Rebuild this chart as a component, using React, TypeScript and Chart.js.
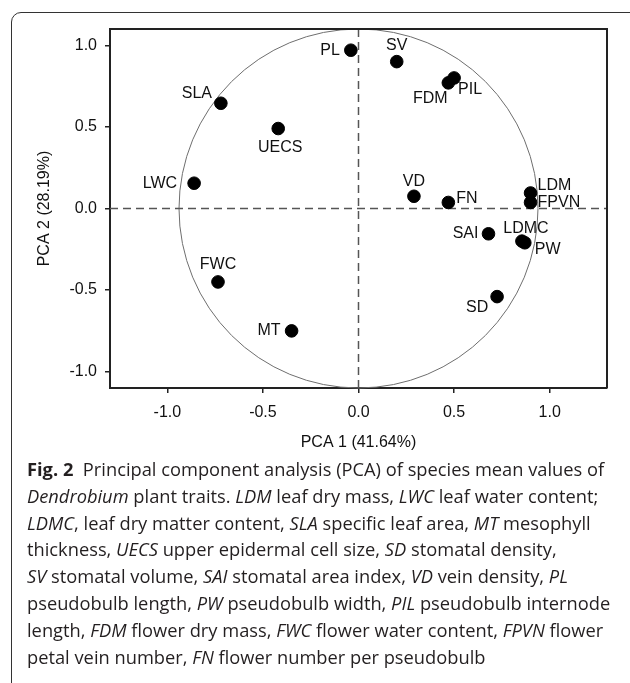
import React, { useEffect, useRef } from "react";
import { Chart, registerables } from "chart.js";
Chart.register(...registerables);

// ---- data ----
const traits = ["PL", "SV", "FDM", "PIL", "SLA", "UECS", "LWC", "FWC", "MT", "VD", "FN", "LDM", "FPVN", "SAI", "LDMC", "PW", "SD"];
const pca1 = [-0.04, 0.2, 0.47, 0.5, -0.72, -0.42, -0.86, -0.735, -0.35, 0.29, 0.47, 0.9, 0.9, 0.68, 0.855, 0.87, 0.725];
const pca2 = [0.97, 0.9, 0.77, 0.8, 0.645, 0.49, 0.155, -0.45, -0.75, 0.075, 0.037, 0.095, 0.037, -0.155, -0.2, -0.21, -0.54];
const xTicks = [-1, -0.5, 0, 0.5, 1];
const yTicks = [-1, -0.5, 0, 0.5, 1];
const xTitle = "PCA 1 (41.64%)";
const yTitle = "PCA 2 (28.19%)";

// label placement (style): [textAlign, dx, dy] relative to the point
const labelPlacement: Record<string, [CanvasTextAlign, number, number]> = {
  PL: ["right", -11, 0],
  SV: ["center", 0, -16],
  FDM: ["center", -18, 16],
  PIL: ["left", 4, 12],
  SLA: ["center", -24, -10],
  UECS: ["center", 2, 19],
  LWC: ["right", -17, 0],
  FWC: ["center", 0, -17],
  MT: ["right", -11, 0],
  VD: ["center", 0, -15],
  FN: ["left", 8, -4],
  LDM: ["left", 7, -7],
  FPVN: ["left", 7, 0],
  SAI: ["right", -10, 0],
  LDMC: ["center", 4, -13],
  PW: ["left", 10, 7],
  SD: ["center", -20, 11],
};

const FONT = "'Liberation Sans', Arial, Helvetica, sans-serif";

const overlay = {
  id: "overlay",
  beforeDatasetsDraw(chart: any) {
    const { ctx, chartArea: a, scales } = chart;
    const x0 = scales.x.getPixelForValue(0);
    const y0 = scales.y.getPixelForValue(0);
    ctx.save();
    ctx.beginPath();
    ctx.strokeStyle = "#6e6e6e";
    ctx.lineWidth = 1;
    ctx.arc(x0, y0, y0 - a.top, 0, Math.PI * 2);
    ctx.stroke();
    ctx.setLineDash([8, 5]);
    ctx.strokeStyle = "#555";
    ctx.lineWidth = 1.5;
    ctx.beginPath();
    ctx.moveTo(x0, a.top);
    ctx.lineTo(x0, a.bottom);
    ctx.moveTo(a.left, y0);
    ctx.lineTo(a.right, y0);
    ctx.stroke();
    ctx.restore();
  },
  afterDatasetsDraw(chart: any) {
    const { ctx, chartArea: a } = chart;
    const meta = chart.getDatasetMeta(0);
    ctx.save();
    ctx.fillStyle = "#111";
    ctx.font = `16px ${FONT}`;
    ctx.textBaseline = "middle";
    meta.data.forEach((pt: any, i: number) => {
      const name = traits[i];
      const [align, dx, dy] = labelPlacement[name] || ["left", 8, 0];
      ctx.textAlign = align;
      ctx.fillText(name, pt.x + dx, pt.y + dy);
    });
    ctx.strokeStyle = "#222";
    ctx.lineWidth = 2;
    ctx.beginPath();
    ctx.moveTo(a.left, a.top);
    ctx.lineTo(a.right, a.top);
    ctx.lineTo(a.right, a.bottom);
    ctx.stroke();
    ctx.restore();
  },
};

export default function App() {
  const ref = useRef<HTMLCanvasElement>(null);
  useEffect(() => {
    if (!ref.current) return;
    const chart = new Chart(ref.current, {
      type: "scatter",
      data: {
        datasets: [
          {
            data: pca1.map((v, i) => ({ x: v, y: pca2[i] })),
            backgroundColor: "#000",
            borderColor: "#000",
            pointRadius: 6.3,
            pointHoverRadius: 6.3,
          },
        ],
      },
      options: {
        animation: false,
        responsive: false,
        maintainAspectRatio: false,
        events: [],
        layout: { padding: { left: 0, top: 29, right: 23, bottom: 0 } },
        plugins: { legend: { display: false }, tooltip: { enabled: false } },
        scales: {
          x: {
            type: "linear",
            min: -1.3,
            max: 1.3,
            afterFit: (s: any) => {
              s.height = 72;
            },
            afterBuildTicks: (s: any) => {
              s.ticks = xTicks.map((v) => ({ value: v }));
            },
            ticks: {
              color: "#111",
              font: { family: FONT, size: 16 },
              padding: 10,
              callback: (v: any) => Number(v).toFixed(1),
            },
            grid: { display: true, drawOnChartArea: false, drawTicks: true, tickLength: 5, color: "#222", lineWidth: 1.5 },
            border: { display: true, color: "#222", width: 2 },
            title: { display: true, text: xTitle, color: "#111", font: { family: FONT, size: 16 }, padding: { top: 0, bottom: 8 } },
          },
          y: {
            type: "linear",
            min: -1.1,
            max: 1.1,
            afterFit: (s: any) => {
              s.width = 110;
            },
            afterBuildTicks: (s: any) => {
              s.ticks = yTicks.map((v) => ({ value: v }));
            },
            ticks: {
              color: "#111",
              font: { family: FONT, size: 16 },
              padding: 8,
              callback: (v: any) => Number(v).toFixed(1),
            },
            grid: { display: true, drawOnChartArea: false, drawTicks: true, tickLength: 5, color: "#222", lineWidth: 1.5 },
            border: { display: true, color: "#222", width: 2 },
            title: { display: true, text: yTitle, color: "#111", font: { family: FONT, size: 16 }, padding: { top: 35, bottom: 0 } },
          },
        },
      },
      plugins: [overlay],
    });
    return () => chart.destroy();
  }, []);

  const it = (t: string) => <i>{t}</i>;
  const lineStyle: React.CSSProperties = { whiteSpace: "nowrap", height: 26.8, lineHeight: "26.8px" };

  return (
    <div style={{ position: "fixed", left: 0, top: 0, width: 630, height: 683, overflow: "hidden", background: "#fff" }}>
      <div
        style={{
          position: "absolute",
          left: 11,
          top: 12,
          width: 640,
          height: 700,
          border: "1px solid #333",
          borderRadius: 10,
          boxSizing: "border-box",
        }}
      />
      <canvas ref={ref} width={630} height={460} style={{ position: "absolute", left: 0, top: 0, width: 630, height: 460 }} />
      <div
        style={{
          position: "absolute",
          left: 27,
          top: 456,
          fontFamily: "'Open Sans', 'Noto Sans', sans-serif",
          fontSize: 18.3,
          letterSpacing: "0px",
          color: "#231f20",
        }}
      >
        <div style={lineStyle}>
          <b>Fig. 2</b>&nbsp; Principal component analysis (PCA) of species mean values of
        </div>
        <div style={lineStyle}>
          {it("Dendrobium")} plant traits. {it("LDM")} leaf dry mass, {it("LWC")} leaf water content;
        </div>
        <div style={lineStyle}>
          {it("LDMC")}, leaf dry matter content, {it("SLA")} specific leaf area, {it("MT")} mesophyll
        </div>
        <div style={lineStyle}>
          thickness, {it("UECS")} upper epidermal cell size, {it("SD")} stomatal density,
        </div>
        <div style={lineStyle}>
          {it("SV")} stomatal volume, {it("SAI")} stomatal area index, {it("VD")} vein density, {it("PL")}
        </div>
        <div style={lineStyle}>
          pseudobulb length, {it("PW")} pseudobulb width, {it("PIL")} pseudobulb internode
        </div>
        <div style={lineStyle}>
          length, {it("FDM")} flower dry mass, {it("FWC")} flower water content, {it("FPVN")} flower
        </div>
        <div style={lineStyle}>
          petal vein number, {it("FN")} flower number per pseudobulb
        </div>
      </div>
    </div>
  );
}
